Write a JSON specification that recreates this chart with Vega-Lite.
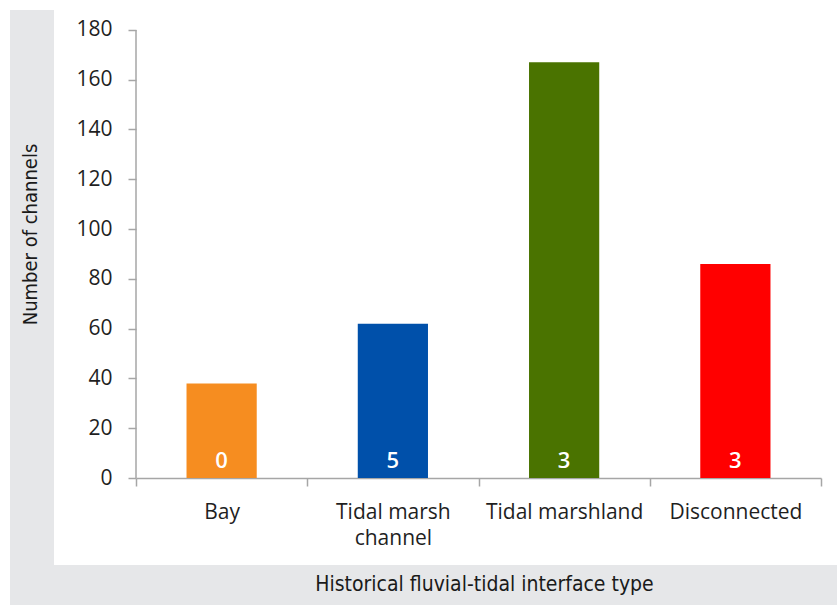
{
  "$schema": "https://vega.github.io/schema/vega-lite/v6.json",
  "padding": {"left": 10, "top": 10, "right": 0, "bottom": 0},
  "background": "white",
  "spacing": 0,
  "config": {"view": {"stroke": null}},
  "vconcat": [
    {
      "bounds": "flush",
      "spacing": 82,
      "hconcat": [
        {
          "width": 44,
          "height": 555,
          "view": {"fill": "#E6E7E9", "stroke": null},
          "data": {"values": [{"t": "Number of channels"}]},
          "mark": {"type": "text", "angle": 270, "font": "DejaVu Sans Condensed, Roboto", "fontSize": 20, "fontWeight": 500, "color": "#1A1A1A", "baseline": "middle", "align": "center", "dx": 53, "dy": -1},
          "encoding": {"text": {"field": "t"}}
        },
        {
          "width": 685,
          "height": 468,
          "data": {"values": [
            {"type": "Bay", "channels": 38, "label": "0"},
            {"type": "Tidal marsh channel", "channels": 62, "label": "5"},
            {"type": "Tidal marshland", "channels": 167, "label": "3"},
            {"type": "Disconnected", "channels": 86, "label": "3"}
          ]},
          "encoding": {
            "x": {
              "field": "type", "type": "nominal", "sort": null,
              "scale": {"paddingInner": 0, "paddingOuter": 0},
              "axis": {
                "title": null, "labelAngle": 0, "tickBand": "extent", "tickSize": 8,
                "tickColor": "#A6A6A6", "tickWidth": 1.5, "domainColor": "#A6A6A6", "domainWidth": 1.5,
                "labelFont": "Open Sans", "labelFontSize": 21, "labelColor": "#1F1F1F", "labelPadding": 15,
                "labelBaseline": "top", "labelLineHeight": 26,
                "labelExpr": "datum.label == 'Tidal marsh channel' ? ['Tidal marsh', 'channel'] : datum.label"
              }
            }
          },
          "layer": [
            {
              "mark": {"type": "bar", "width": {"band": 0.41}},
              "encoding": {
                "y": {
                  "field": "channels", "type": "quantitative",
                  "scale": {"domain": [0, 188], "nice": false},
                  "axis": {
                    "title": null, "values": [0, 20, 40, 60, 80, 100, 120, 140, 160, 180],
                    "domain": false, "grid": false, "tickSize": 8, "tickColor": "#A6A6A6", "tickWidth": 1.5,
                    "labelFont": "Open Sans", "labelFontSize": 21, "labelColor": "#1F1F1F", "labelPadding": 16
                  }
                },
                "color": {
                  "field": "type", "type": "nominal", "legend": null,
                  "scale": {
                    "domain": ["Bay", "Tidal marsh channel", "Tidal marshland", "Disconnected"],
                    "range": ["#F68D20", "#0050AA", "#4A7300", "#FF0000"]
                  }
                }
              }
            },
            {
              "mark": {"type": "text", "color": "white", "font": "Open Sans", "fontWeight": 600, "fontSize": 22, "baseline": "alphabetic", "dy": -10},
              "encoding": {
                "y": {"datum": 0, "type": "quantitative"},
                "text": {"field": "label"}
              }
            },
            {
              "data": {"values": [{}]},
              "mark": {"type": "rule", "color": "#A6A6A6", "strokeWidth": 1.5},
              "encoding": {
                "x": {"datum": "Bay", "bandPosition": 0},
                "y": {"datum": 0, "type": "quantitative"},
                "y2": {"datum": 180}
              }
            }
          ]
        }
      ]
    },
    {
      "width": 827,
      "height": 40,
      "view": {"fill": "#E6E7E9", "stroke": null},
      "data": {"values": [{"t": "Historical fluvial-tidal interface type"}]},
      "mark": {"type": "text", "font": "DejaVu Sans Condensed, Roboto", "fontSize": 21, "fontWeight": 500, "color": "#1A1A1A", "baseline": "middle", "align": "center", "dx": 61},
      "encoding": {"text": {"field": "t"}}
    }
  ]
}
